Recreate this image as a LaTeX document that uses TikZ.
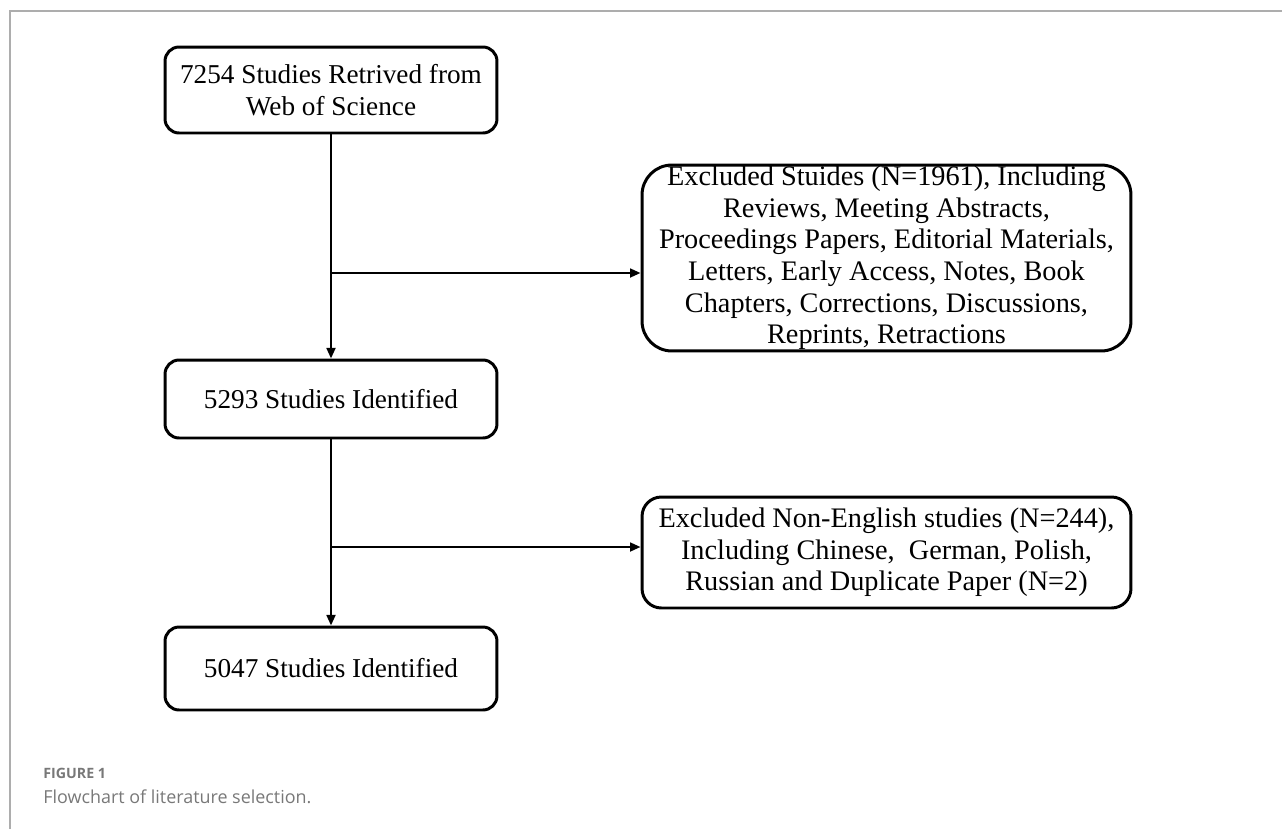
\documentclass[tikz,border=0pt]{standalone}
\usepackage{fontspec}
\setmainfont{Liberation Serif}
\newfontfamily\capfont{Open Sans}
\usetikzlibrary{arrows.meta}
\definecolor{framegray}{gray}{0.68}
\definecolor{capgray}{gray}{0.47}
\begin{document}
\begin{tikzpicture}[x=0.02cm,y=-0.02cm,
    box/.style={draw,line width=1.7pt,rounded corners=#1,align=center,inner sep=0pt,
        font=\fontsize{16.1}{18}\selectfont},
    box/.default=8pt,
    mainbox/.style={box,minimum width=6.64cm,font=\fontsize{15.5}{18.5}\selectfont},
    arr/.style={line width=1.3pt,-{Triangle[length=6pt,width=5pt]}}]
    \useasboundingbox (0,0) rectangle (1282,829);
    \draw[framegray,line width=0.8pt] (10,829) -- (10,11) -- (1282,11);
    % main column
    \node[mainbox,minimum height=1.72cm] (retr) at (331,90)
        {7254 Studies Retrived from\\Web of Science};
    \node[mainbox,minimum height=1.56cm] (ident) at (331,399) {5293 Studies Identified};
    \node[mainbox,minimum height=1.66cm] (final) at (331,668.5) {5047 Studies Identified};
    % exclusions
    \node[box=17pt,minimum width=9.78cm,minimum height=3.72cm] (excl) at (886.5,258)
        {Excluded Stuides (N=1961), Including\\Reviews, Meeting Abstracts,\\Proceedings Papers, Editorial Materials,\\
         Letters, Early Access, Notes, Book\\Chapters, Corrections, Discussions,\\Reprints, Retractions};
    \node[box=11pt,minimum width=9.78cm,minimum height=2.22cm] (lang) at (886.5,552.5)
        {Excluded Non-English studies (N=244),\\Including Chinese,\ \ German, Polish,\\Russian and Duplicate Paper (N=2)};
    \coordinate (b1) at (331,273);
    \coordinate (b2) at (331,547);
    \draw[arr] (retr) -- (ident);
    \draw[arr] (ident) -- (final);
    \draw[arr] (b1) -- (b1 -| excl.west);
    \draw[arr] (b2) -- (b2 -| lang.west);
    % caption
    \node[anchor=west,inner sep=0pt,text=capgray,font=\capfont\bfseries\fontsize{8.1}{10}\selectfont] (fig) at (43,773) {FIGURE 1};
    \node[anchor=west,inner sep=0pt,text=capgray,font=\capfont\fontsize{10.2}{12}\selectfont] (cap) at (43,797) {Flowchart of literature selection.};
\end{tikzpicture}
\end{document}
